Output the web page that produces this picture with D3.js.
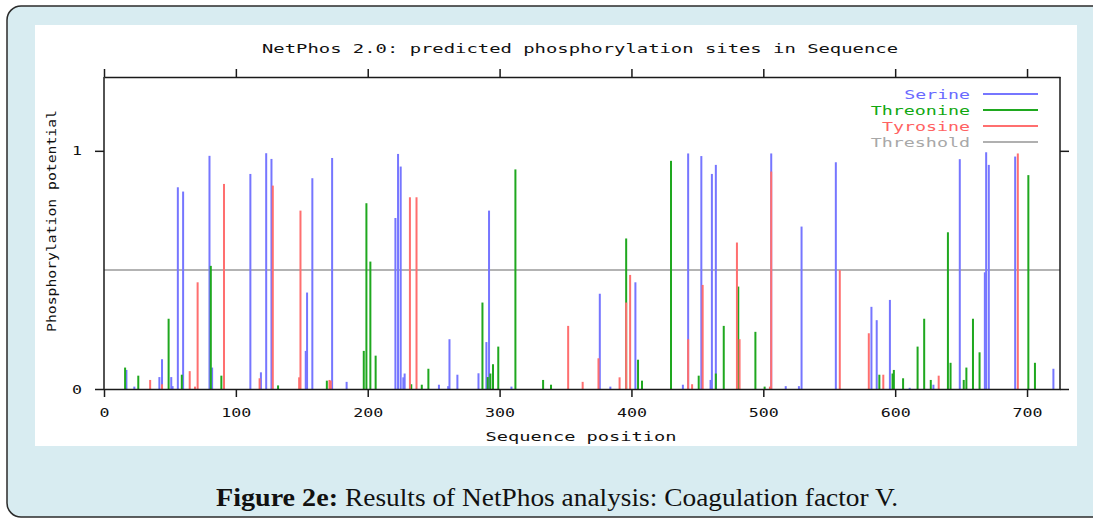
<!DOCTYPE html>
<html><head><meta charset="utf-8">
<script src="https://cdn.jsdelivr.net/npm/d3@7"></script>
<style>
html,body{margin:0;padding:0;background:#fff;}
svg{display:block;}
</style></head>
<body>
<svg id="chart" width="1093" height="521"></svg>
<script>
// ---- data ----
const title = "NetPhos 2.0: predicted phosphorylation sites in Sequence";
const xLabel = "Sequence position";
const yLabel = "Phosphorylation potential";
const caption = "Results of NetPhos analysis: Coagulation factor V.";
const captionBold = "Figure 2e:";
const xTicks = [0, 100, 200, 300, 400, 500, 600, 700];
const yTicks = [0, 1];
const threshold = 0.5;
const legendNames = ["Serine", "Threonine", "Tyrosine", "Threshold"];

const serinePos = [17, 23, 42, 44, 51, 52, 56, 60, 80, 82, 111, 119, 123, 127, 153, 154, 158, 173, 184, 221, 223, 225, 227, 228, 254, 261, 262, 268, 284, 290, 292, 309, 376, 384, 403, 439, 443, 453, 460, 461, 464, 506, 517, 527, 529, 555, 582, 586, 596, 611, 629, 649, 668, 669, 671, 691, 720];
const serineVal = [0.08, 0.01, 0.05, 0.125, 0.05, 0.012, 0.847, 0.829, 0.979, 0.09, 0.903, 0.07, 0.99, 0.966, 0.16, 0.405, 0.885, 0.97, 0.03, 0.718, 0.987, 0.934, 0.049, 0.065, 0.018, 0.012, 0.209, 0.06, 0.066, 0.197, 0.749, 0.01, 0.4, 0.01, 0.448, 0.018, 0.989, 0.978, 0.038, 0.903, 0.941, 0.989, 0.012, 0.012, 0.682, 0.952, 0.345, 0.289, 0.374, 0.005, 0.018, 0.965, 0.49, 0.994, 0.941, 0.976, 0.085];

const threoninePos = [16, 26, 49, 59, 81, 89, 132, 169, 197, 199, 202, 206, 233, 241, 246, 287, 291, 293, 295, 299, 312, 333, 339, 396, 405, 408, 430, 451, 464, 470, 481, 494, 501, 588, 598, 599, 606, 617, 622, 627, 640, 642, 652, 654, 659, 664, 701, 706];
const threonineVal = [0.09, 0.056, 0.295, 0.06, 0.517, 0.056, 0.015, 0.035, 0.16, 0.78, 0.535, 0.14, 0.02, 0.018, 0.085, 0.363, 0.05, 0.065, 0.104, 0.178, 0.922, 0.038, 0.018, 0.632, 0.123, 0.035, 0.958, 0.056, 0.065, 0.265, 0.43, 0.24, 0.01, 0.06, 0.065, 0.08, 0.045, 0.178, 0.295, 0.038, 0.658, 0.11, 0.038, 0.09, 0.295, 0.154, 0.898, 0.11];

const tyrosinePos = [35, 44, 65, 69, 71, 91, 118, 128, 148, 149, 171, 172, 232, 237, 352, 363, 375, 391, 396, 399, 443, 446, 454, 480, 482, 505, 506, 558, 580, 591, 633, 693];
const tyrosineVal = [0.038, 0.02, 0.075, 0.01, 0.448, 0.861, 0.045, 0.854, 0.049, 0.749, 0.038, 0.035, 0.805, 0.805, 0.265, 0.03, 0.129, 0.049, 0.363, 0.479, 0.209, 0.02, 0.437, 0.615, 0.209, 0.01, 0.913, 0.499, 0.234, 0.06, 0.056, 0.989];

// ---- layout ----
const svg = d3.select("#chart");
const W = 1093, H = 521;
const plot = {left: 104, right: 1060, top: 77, bottom: 389};
const mono = "DejaVu Sans Mono";

const x = d3.scaleLinear().domain([0, 725]).range([plot.left, plot.right]);
const y = d3.scaleLinear().domain([0, 1.31]).range([plot.bottom, plot.top]);

// background panel
svg.append("rect").attr("x", 0).attr("y", 0).attr("width", W).attr("height", H).attr("fill", "#ffffff");
svg.append("rect").attr("x", 7).attr("y", 6).attr("width", 1110).attr("height", 511)
  .attr("rx", 14).attr("fill", "#d8ecf1").attr("stroke", "#2b2b2b").attr("stroke-width", 1.5);
svg.append("rect").attr("x", 35).attr("y", 25).attr("width", 1042).attr("height", 421).attr("fill", "#ffffff");

// stretched text helper
function stext(g, txt, cx, baseline, len, opts = {}) {
  return g.append("text")
    .attr("x", cx).attr("y", baseline)
    .attr("text-anchor", opts.anchor || "middle")
    .attr("font-family", opts.family || mono)
    .attr("font-size", opts.size || 12.5)
    .attr("font-weight", opts.weight || "normal")
    .attr("fill", opts.fill || "#111")
    .attr("textLength", len)
    .attr("lengthAdjust", "spacingAndGlyphs")
    .text(txt);
}

// title
stext(svg, title, 580, 53, 636);

// threshold
svg.append("line")
  .attr("x1", plot.left).attr("x2", plot.right)
  .attr("y1", y(threshold)).attr("y2", y(threshold))
  .attr("stroke", "#b3b3b3").attr("stroke-width", 2);

// bars
const colors = {Serine: "#7676ff", Threonine: "#1fa81f", Tyrosine: "#ff6f6f", Threshold: "#b0b0b0"};
const series = [
  {name: "Serine", pos: serinePos, val: serineVal},
  {name: "Threonine", pos: threoninePos, val: threonineVal},
  {name: "Tyrosine", pos: tyrosinePos, val: tyrosineVal}
];
series.forEach(s => {
  const data = s.pos.map((p, i) => ({p, v: s.val[i]}));
  svg.append("g").selectAll("rect").data(data).join("rect")
    .attr("x", d => x(d.p) - 1)
    .attr("width", 2)
    .attr("y", d => y(d.v))
    .attr("height", d => y(0) - y(d.v))
    .attr("fill", colors[s.name]);
});

// axes
function styleAxis(g) {
  g.selectAll("path.domain").attr("stroke", "#1a1a1a").attr("stroke-width", 1.5);
  g.selectAll(".tick line").attr("stroke", "#1a1a1a").attr("stroke-width", 1.5);
  g.selectAll("text").attr("font-family", mono).attr("font-size", 12.5).attr("fill", "#111");
}
const gBottom = svg.append("g").attr("transform", `translate(0,${plot.bottom})`)
  .call(d3.axisBottom(x).tickValues(xTicks).tickSize(8).tickSizeOuter(0).tickPadding(11).tickFormat(d3.format("d")));
styleAxis(gBottom);
gBottom.selectAll("text").attr("textLength", d => String(d).length * 10).attr("lengthAdjust", "spacingAndGlyphs");

const gTop = svg.append("g").attr("transform", `translate(0,${plot.top})`)
  .call(d3.axisTop(x).tickValues(xTicks).tickSize(8).tickSizeOuter(0).tickFormat(""));
styleAxis(gTop);

const gLeft = svg.append("g").attr("transform", `translate(${plot.left},0)`)
  .call(d3.axisLeft(y).tickValues(yTicks).tickSize(9).tickSizeOuter(0).tickPadding(13).tickFormat(d3.format("d")));
styleAxis(gLeft);
gLeft.selectAll("text").attr("textLength", 10).attr("lengthAdjust", "spacingAndGlyphs");
gLeft.select("path.domain").attr("d", `M0,${plot.bottom}V${plot.top}`);

const gRight = svg.append("g").attr("transform", `translate(${plot.right},0)`)
  .call(d3.axisRight(y).tickValues(yTicks).tickSize(9).tickSizeOuter(0).tickFormat(""));
styleAxis(gRight);
gRight.select("path.domain").attr("d", `M0,${plot.bottom}V${plot.top}`);

// axis labels
stext(svg, xLabel, 581, 441, 191);
svg.append("text")
  .attr("transform", `translate(56,221) rotate(-90)`)
  .attr("text-anchor", "middle")
  .attr("font-family", mono).attr("font-size", 13).attr("fill", "#111")
  .attr("textLength", 222).attr("lengthAdjust", "spacingAndGlyphs")
  .text(yLabel);

// legend
const legend = svg.append("g");
legendNames.forEach((n, i) => {
  const ly = 94 + i * 16;
  stext(legend, n, 970, ly + 4.5, n.length * 11.2 - 1.5, {anchor: "end", fill: n === "Threshold" ? "#a8a8a8" : (n === "Serine" ? "#6a6aff" : (n === "Threonine" ? "#12a812" : "#ff6262"))});
  legend.append("line").attr("x1", 983).attr("x2", 1038).attr("y1", ly).attr("y2", ly)
    .attr("stroke", colors[n]).attr("stroke-width", 1.8);
});

// caption
const serif = "Liberation Serif";
stext(svg, captionBold, 216, 506, 122, {anchor: "start", family: serif, size: 25, weight: "bold", fill: "#111"});
stext(svg, caption, 345, 506, 553, {anchor: "start", family: serif, size: 25, fill: "#111"});
</script>
</body></html>
